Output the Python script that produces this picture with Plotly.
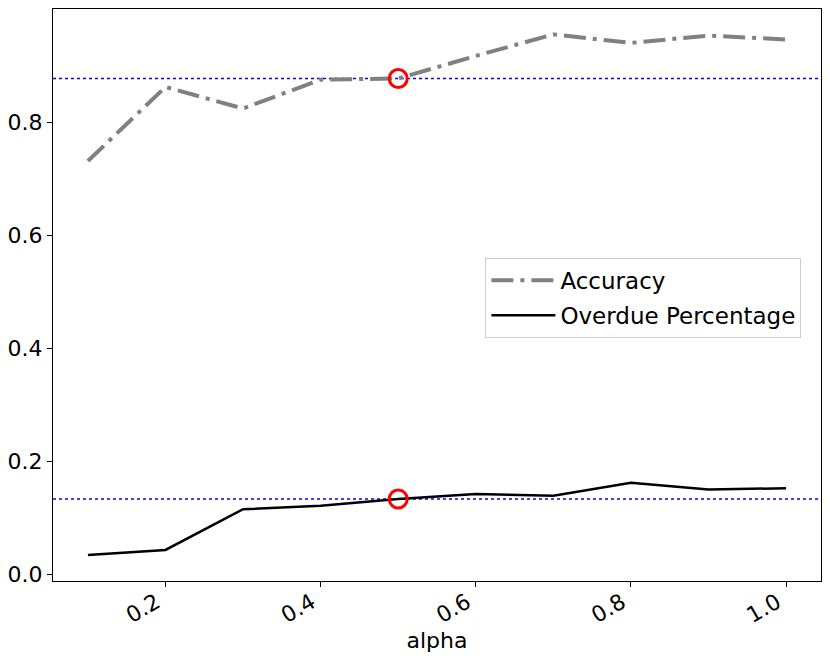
import plotly.graph_objects as go

alpha = [0.1, 0.2, 0.3, 0.4, 0.5, 0.6, 0.7, 0.8, 0.9, 1.0]
accuracy = [0.731, 0.862, 0.824, 0.875, 0.877, 0.917, 0.955, 0.940, 0.953, 0.946]
overdue = [0.034, 0.043, 0.115, 0.121, 0.133, 0.142, 0.139, 0.162, 0.150, 0.152]
sel = 4  # index of alpha = 0.5

xticks = [0.2, 0.4, 0.6, 0.8, 1.0]
yticks = [0.0, 0.2, 0.4, 0.6, 0.8]

font = "DejaVu Sans"
fs = 22

fig = go.Figure()
fig.add_trace(go.Scatter(x=alpha, y=accuracy, mode="lines", name="Accuracy",
                         legendgroup="a",
                         line=dict(color="#808080", width=4, dash="22px,7px,4px,7px")))
fig.add_trace(go.Scatter(x=alpha, y=overdue, mode="lines", name="Overdue Percentage",
                         legendgroup="b",
                         line=dict(color="black", width=2.5)))
fig.add_trace(go.Scatter(x=[alpha[sel], alpha[sel]], y=[accuracy[sel], overdue[sel]],
                         mode="markers", showlegend=False,
                         marker=dict(symbol="circle-open", size=18, color="red",
                                     line=dict(width=3, color="red"))))

for v in (accuracy[sel], overdue[sel]):
    fig.add_shape(type="line", xref="paper", yref="y", x0=0, x1=1, y0=v, y1=v,
                  line=dict(color="blue", width=1.5, dash="dot"), layer="below")

# page body adds an 8px offset; figure is sized to fit within the window
fig.update_layout(
    width=814, height=647,
    margin=dict(l=45, r=1, t=1, b=74),
    paper_bgcolor="white", plot_bgcolor="white",
    font=dict(family=font, size=fs, color="black"),
    legend=dict(x=0.563, y=0.565, xanchor="left", yanchor="top",
                bordercolor="#cccccc", borderwidth=1, bgcolor="white",
                font=dict(size=23), traceorder="grouped", tracegroupgap=2,
                itemwidth=64),
    showlegend=True,
)
fig.update_xaxes(range=[0.055, 1.045], tickvals=xticks, ticktext=[f"{t:.1f}" for t in xticks],
                 tickangle=-30, ticks="outside", ticklen=5, tickcolor="black",
                 ticklabelshift=-9, ticklabelstandoff=-6,
                 showline=True, linecolor="black", linewidth=1, mirror=True,
                 showgrid=False, zeroline=False, automargin=False,
                 title=dict(text="alpha", font=dict(size=fs), standoff=2))
fig.update_yaxes(range=[-0.012, 1.0], tickvals=yticks, ticktext=[f"{t:.1f}" for t in yticks],
                 ticks="outside", ticklen=5, tickcolor="black",
                 showline=True, linecolor="black", linewidth=1, mirror=True,
                 showgrid=False, zeroline=False, automargin=False)

fig.write_html("out.html")
